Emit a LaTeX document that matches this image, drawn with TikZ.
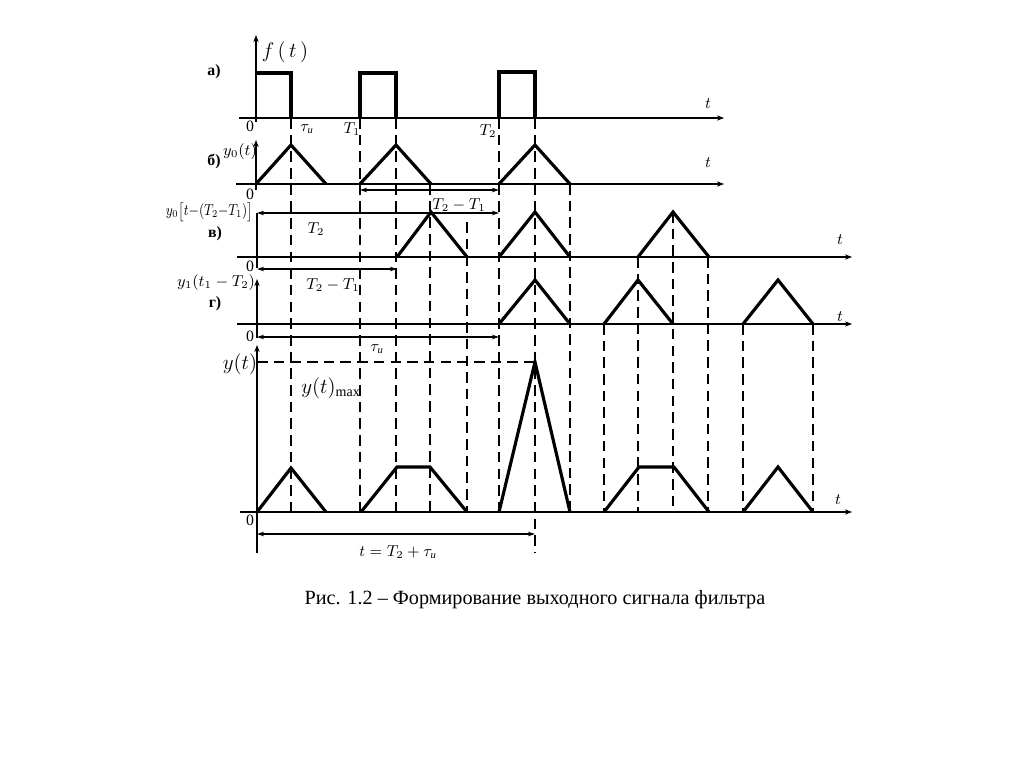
\documentclass[tikz,border=0pt]{standalone}
\usepackage{amsmath,amssymb}
\usepackage{fontspec}
\setmainfont{Liberation Serif}
\usepackage{tikz}
\usetikzlibrary{arrows.meta}

\begin{document}
\begin{tikzpicture}[x=0.02cm, y=-0.02cm,
    axis/.style={-{Stealth[length=4pt,width=3pt]}, line width=0.6pt},
    sig/.style={line width=1.8pt, line join=miter},
    guide/.style={dash pattern=on 6pt off 3.5pt, line width=0.6pt},
    dim/.style={{Stealth[length=4pt,width=2.6pt]}-{Stealth[length=4pt,width=2.6pt]}, line width=0.6pt},
    lbl/.style={font=\fontsize{9}{10}\selectfont, inner sep=1pt},
    big/.style={font=\fontsize{12}{14}\selectfont, inner sep=1pt},
    panel/.style={font=\fontsize{9}{10}\selectfont\bfseries, inner sep=1pt}]

    \useasboundingbox (0,0) rectangle (1024,767);

    % Guide lines
    \draw[guide] (291,118) -- (291,516);
    \draw[guide] (360,118) -- (360,512);
    \draw[guide] (396,118) -- (396,518);
    \draw[guide] (430,184) -- (430,512);
    \draw[guide] (467,222) -- (467,512);
    \draw[guide] (499,118) -- (499,512);
    \draw[guide] (535,118) -- (535,553);
    \draw[guide] (570,184) -- (570,512);
    \draw[guide] (604,324) -- (604,512);
    \draw[guide] (638,257) -- (638,512);
    \draw[guide] (673,212) -- (673,512);
    \draw[guide] (708,257) -- (708,512);
    \draw[guide] (743,324) -- (743,512);
    \draw[guide] (813,324) -- (813,512);

    % Panel a
    \draw[axis] (239,118) -- (724,118);
    \draw[axis] (256,122) -- (256,35);
    \draw[sig] (256,73) -- (291,73) -- (291,118);
    \draw[sig] (360,118) -- (360,73) -- (396,73) -- (396,118);
    \draw[sig] (499,118) -- (499,72) -- (535,72) -- (535,118);
    \node[panel] (pa) at (214,72) {а)};
    \node[big] (fa) at (285,52) {$f\,(\,t\,)$};
    \node[lbl] (ta) at (708,104) {$t$};
    \node[lbl] (za) at (250,126) {0};
    \node[lbl] (tau) at (307,129) {$\tau_{\text{\itshape и}}$};
    \node[lbl] (tone) at (352,129) {$T_1$};
    \node[lbl] (ttwo) at (488,131) {$T_2$};

    % Panel b
    \draw[axis] (236,184) -- (724,184);
    \draw[axis] (256,190) -- (256,140);
    \draw[sig] (256,184) -- (291,145) -- (326,184);
    \draw[sig] (360,184) -- (396,145) -- (431,184);
    \draw[sig] (499,184) -- (535,145) -- (570,184);
    \node[panel] (pb) at (214,162) {б)};
    \node[lbl] (yb) at (240,152) {$y_0(t)$};
    \node[lbl] (tb) at (708,163) {$t$};
    \node[lbl] (zb) at (250,194) {0};
    \draw[dim] (360,190) -- (499,190);
    \node[lbl] (db) at (459,205) {$T_2-T_1$};

    % Panel v
    \draw[axis] (237,257) -- (852,257);
    \draw[line width=0.6pt] (257,268) -- (257,213);
    \draw[dim] (257,213) -- (499,213);
    \node[lbl] (dv) at (316,229) {$T_2$};
    \draw[sig] (397,257) -- (431,212) -- (467,257);
    \draw[sig] (499,257) -- (535,212) -- (570,257);
    \draw[sig] (638,257) -- (673,212) -- (709,257);
    \node[panel] (pv) at (215,234) {в)};
    \node[lbl, anchor=east] (yv) at (255,212) {\scalebox{0.82}[1]{$y_0\bigl[t{-}(T_2{-}T_1)\bigr]$}};
    \node[lbl] (tv) at (840,240) {$t$};
    \node[lbl] (zv) at (250,266) {0};
    \draw[dim] (257,269) -- (397,269);
    \node[lbl] (dv2) at (333,285) {$T_2-T_1$};

    % Panel g
    \draw[axis] (237,324) -- (852,324);
    \draw[axis] (257,338) -- (257,279);
    \draw[sig] (499,324) -- (535,280) -- (570,324);
    \draw[sig] (604,324) -- (638,280) -- (673,324);
    \draw[sig] (743,324) -- (778,280) -- (813,324);
    \node[panel] (pg) at (215,304) {г)};
    \node[lbl] (yg) at (216,283) {$y_1(t_1-T_2)$};
    \node[lbl] (tg) at (840,317) {$t$};
    \node[lbl] (zg) at (250,336) {0};
    \draw[dim] (257,337) -- (499,337);
    \node[lbl] (dg) at (377,349) {$\tau_{\text{\itshape и}}$};

    % Output
    \draw[axis] (240,512) -- (852,512);
    \draw[axis] (257,553) -- (257,345);
    \draw[guide] (257,362) -- (535,362);
    \draw[sig] (257,512) -- (291,468) -- (326,512);
    \draw[sig] (361,512) -- (397,467) -- (430,467) -- (467,512);
    \draw[sig] (499,512) -- (535,362) -- (570,512);
    \draw[sig] (604,512) -- (639,467) -- (674,467) -- (709,512);
    \draw[sig] (743,512) -- (778,467) -- (813,512);
    \node[big] (yo) at (240,364) {$y(t)$};
    \node[big] (ymax) at (331,388) {$y(t)_{\mathrm{max}}$};
    \node[lbl] (to) at (838,500) {$t$};
    \node[lbl] (zo) at (250,520) {0};
    \draw[dim] (257,534) -- (535,534);
    \node[lbl] (dout) at (398,552) {$t=T_2+\tau_{\text{\itshape и}}$};

    % Caption
    \node[font=\fontsize{11.5}{14}\selectfont] (cap) at (535,600) {Рис. 1.2 – Формирование выходного сигнала фильтра};
\end{tikzpicture}
\end{document}
